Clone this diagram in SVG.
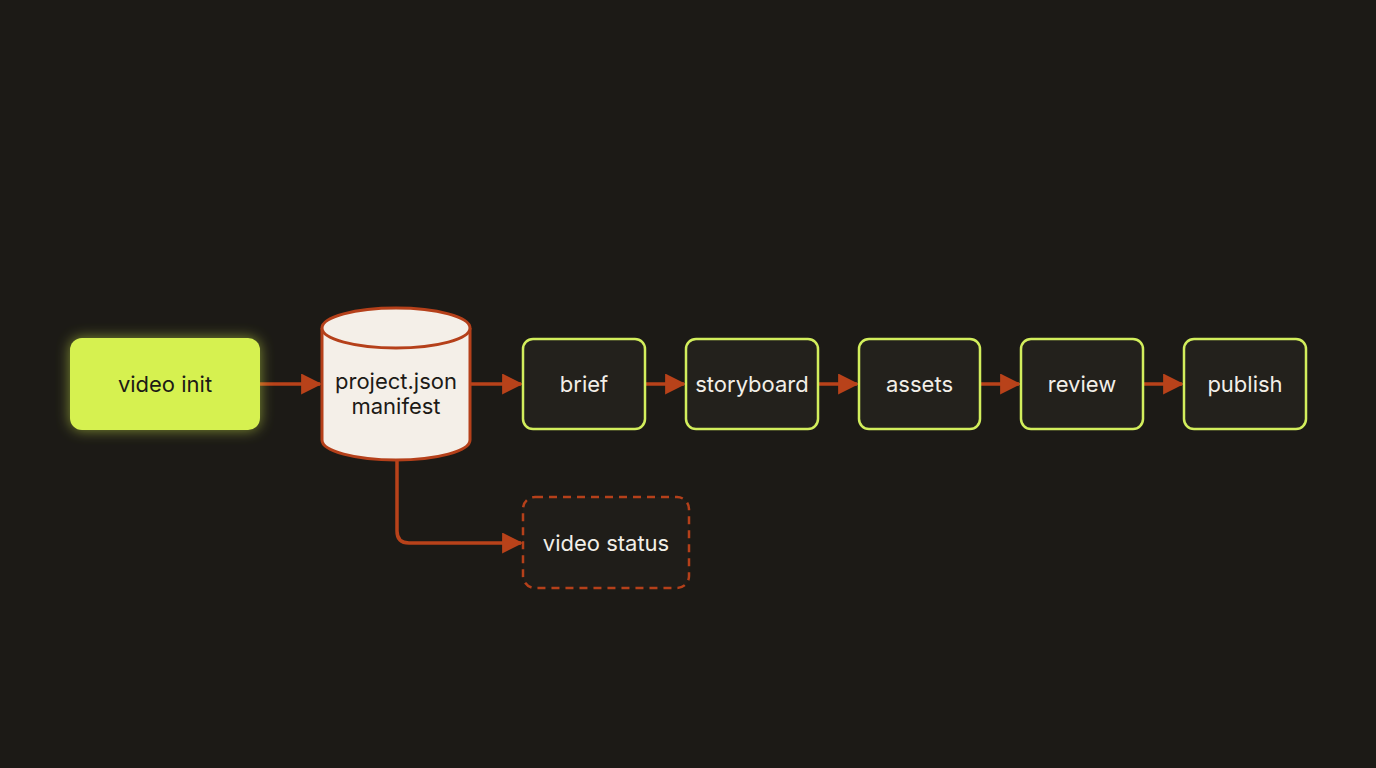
<svg xmlns="http://www.w3.org/2000/svg" width="1376" height="768" viewBox="0 0 1376 768">
<style>
.bg{fill:#1c1a16}
.stage{fill:#23211c;stroke:#d2ee5c;stroke-width:2.5}
.lbl{font-family:Inter,"Liberation Sans",sans-serif;font-size:22px;fill:#f2efe8;text-anchor:middle;dominant-baseline:central}
.dark{fill:#1c1a16}
.conn{fill:none;stroke:#b8421a;stroke-width:3.5}
</style>
<defs>
<marker id="ah" viewBox="0 0 10 10" refX="9" refY="5" markerWidth="6" markerHeight="6" orient="auto" markerUnits="strokeWidth">
<path d="M0,0 L10,5 L0,10 Z" fill="#b8421a"/>
</marker>
<filter id="glow" x="-30%" y="-40%" width="160%" height="180%">
<feGaussianBlur stdDeviation="7"/>
</filter>
</defs>
<rect class="bg" width="1376" height="768"/>
<g id="connectors">
<line class="conn" x1="260" y1="384" x2="320" y2="384" marker-end="url(#ah)"/>
<line class="conn" x1="471" y1="384" x2="521" y2="384" marker-end="url(#ah)"/>
<line class="conn" x1="645" y1="384" x2="684" y2="384" marker-end="url(#ah)"/>
<line class="conn" x1="818" y1="384" x2="857" y2="384" marker-end="url(#ah)"/>
<line class="conn" x1="980" y1="384" x2="1019" y2="384" marker-end="url(#ah)"/>
<line class="conn" x1="1143" y1="384" x2="1182" y2="384" marker-end="url(#ah)"/>
<path class="conn" d="M397,461 V531 Q397,543 409,543 H521" marker-end="url(#ah)"/>
</g>
<g id="video-init">
<rect x="70" y="338" width="190" height="92" rx="12" fill="#d8f24a" opacity="0.55" filter="url(#glow)"/>
<rect x="70" y="338" width="190" height="92" rx="12" fill="#d6f150"/>
<text class="lbl dark" x="165" y="384">video init</text>
</g>
<g id="manifest">
<path d="M322,328 V440 A74,20 0 0 0 470,440 V328" fill="#f4efe8" stroke="#b5401a" stroke-width="3"/>
<ellipse cx="396" cy="328" rx="74" ry="20" fill="#f4efe8" stroke="#b5401a" stroke-width="3"/>
<text class="lbl dark" x="396" y="381">project.json</text>
<text class="lbl dark" x="396" y="406">manifest</text>
</g>
<g id="brief">
<rect class="stage" x="523" y="339" width="122" height="90" rx="10"/>
<text class="lbl" x="584" y="384">brief</text>
</g>
<g id="storyboard">
<rect class="stage" x="686" y="339" width="132" height="90" rx="10"/>
<text class="lbl" x="752" y="384">storyboard</text>
</g>
<g id="assets">
<rect class="stage" x="859" y="339" width="121" height="90" rx="10"/>
<text class="lbl" x="919.5" y="384">assets</text>
</g>
<g id="review">
<rect class="stage" x="1021" y="339" width="122" height="90" rx="10"/>
<text class="lbl" x="1082" y="384">review</text>
</g>
<g id="publish">
<rect class="stage" x="1184" y="339" width="122" height="90" rx="10"/>
<text class="lbl" x="1245" y="384">publish</text>
</g>
<g id="video-status">
<rect x="523" y="497" width="166" height="91" rx="12" fill="#1f1d19" stroke="#b5401a" stroke-width="2.5" stroke-dasharray="8 6"/>
<text class="lbl" x="606" y="543">video status</text>
</g>
</svg>
